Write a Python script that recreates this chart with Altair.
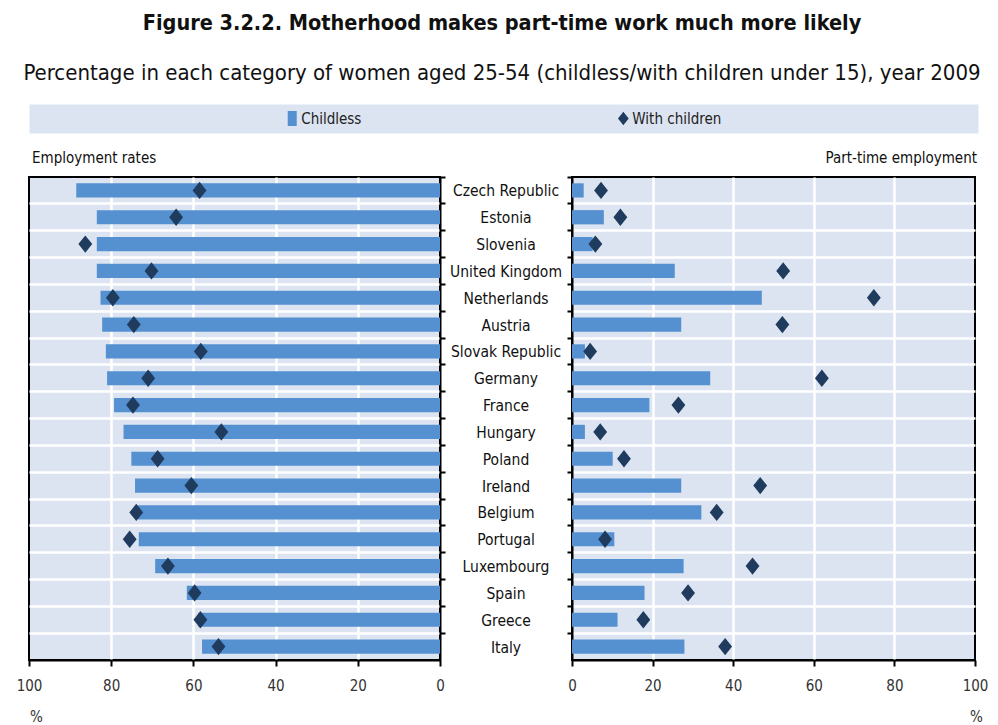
import altair as alt
import pandas as pd

countries = ["Czech Republic", "Estonia", "Slovenia", "United Kingdom", "Netherlands",
             "Austria", "Slovak Republic", "Germany", "France", "Hungary", "Poland",
             "Ireland", "Belgium", "Portugal", "Luxembourg", "Spain", "Greece", "Italy"]
emp_childless = [88.5, 83.5, 83.5, 83.5, 82.6, 82.2, 81.3, 81.0, 79.3, 77.0, 75.1,
                 74.2, 73.5, 73.3, 69.3, 61.6, 58.8, 57.9]
emp_mothers = [58.5, 64.2, 86.3, 70.2, 79.6, 74.5, 58.2, 71.0, 74.7, 53.2, 68.7,
               60.5, 73.9, 75.5, 66.2, 59.7, 58.3, 53.9]
pt_childless = [2.9, 7.9, 5.1, 25.5, 47.1, 27.1, 3.2, 34.3, 19.2, 3.2, 10.1,
                27.1, 32.1, 10.5, 27.7, 18.0, 11.3, 27.9]
pt_mothers = [7.2, 12.0, 5.8, 52.4, 74.9, 52.2, 4.5, 62.0, 26.4, 7.0, 12.9,
              46.7, 35.9, 8.2, 44.8, 28.8, 17.7, 38.0]
tick_values = [0, 20, 40, 60, 80, 100]
legend_labels = ["Childless", "With children"]

df = pd.DataFrame({
    "country": countries,
    "emp_childless": emp_childless,
    "emp_mothers": emp_mothers,
    "pt_childless": pt_childless,
    "pt_mothers": pt_mothers,
})
legend_df = pd.DataFrame({"item": legend_labels})

NARROW = "DejaVu Sans Condensed, sans-serif"
BAR = "#5590D0"
DIA = "#1F3B5E"
BG = "#DCE4F1"
DIAMOND = "M0,-1L0.8,0L0,1L-0.8,0Z"
SQUARE = "M-0.6,-1L0.6,-1L0.6,1L-0.6,1Z"

PLOT_H = 483

y_scale = alt.Scale(paddingInner=0, paddingOuter=0)

hide_first = {"condition": {"test": "datum.index === 0", "value": 0}, "value": 1}
hide_edges = {"condition": {"test": "datum.value === 0 || datum.value === 100", "value": 0}, "value": 1}


def y_axis(orient):
    return alt.Axis(orient=orient, labels=False, title=None, bandPosition=0,
                    grid=True, gridColor="white", gridWidth=2.5, gridOpacity=hide_first,
                    ticks=True, tickSize=5, tickColor="black", tickWidth=2,
                    domainColor="black", domainWidth=2)


def x_axis(title_x):
    return alt.Axis(values=tick_values, grid=True, gridColor="white", gridWidth=2.5,
                    gridOpacity=hide_edges, labelFlush=False,
                    labelFont=NARROW, labelFontSize=15, labelColor="#333333",
                    labelPadding=12, tickSize=6, tickColor="black", tickWidth=2,
                    domainColor="black", domainWidth=2,
                    title="%", titleFont=NARROW, titleFontSize=15,
                    titleFontWeight="normal", titleColor="#333333",
                    titleX=title_x, titleY=56, titleAlign="center",
                    titleBaseline="middle")


def panel(bar_field, dot_field, reverse, y_orient, title_text, title_anchor, title_dx, title_x, width):
    base = alt.Chart(df)
    xs = alt.Scale(domain=[0, 100], reverse=reverse)
    ys = alt.Y("country:N", sort=countries, scale=y_scale, axis=y_axis(y_orient))
    bars = base.mark_bar(height={"band": 0.53}, color=BAR).encode(
        x=alt.X(f"{bar_field}:Q", scale=xs, axis=x_axis(title_x)),
        y=ys,
    )
    dots = base.mark_point(shape=DIAMOND, filled=True, size=300, color=DIA, opacity=1).encode(
        x=alt.X(f"{dot_field}:Q", scale=xs),
        y=ys,
    )
    return alt.layer(bars, dots).properties(
        width=width, height=PLOT_H,
        view=alt.ViewBackground(fill=BG, stroke="black", strokeWidth=2),
        title=alt.TitleParams(title_text, anchor=title_anchor, frame="group", font=NARROW,
                              fontSize=15, fontWeight="normal", color="#111111",
                              offset=10, dx=title_dx),
    )


left = panel("emp_childless", "emp_mothers", True, "right", "Employment rates", "start", 3, 7, 411)
right = panel("pt_childless", "pt_mothers", False, "left", "Part-time employment", "end", 2, 404, 403)

middle = alt.Chart(df).mark_text(font=NARROW, fontSize=15.5, color="#111111",
                                 align="center", baseline="middle", dy=1).encode(
    y=alt.Y("country:N", sort=countries, scale=y_scale, axis=None),
    x=alt.value(66),
    text="country:N",
).properties(width=132, height=PLOT_H,
             view=alt.ViewBackground(fill="transparent", stroke="transparent"))

legend_scale = alt.Scale(type="point", domain=legend_labels, padding=0.933, align=0.426)
lx = alt.X("item:N", scale=legend_scale, axis=None, sort=legend_labels)
lbase = alt.Chart(legend_df)
leg_sq = lbase.transform_filter(alt.datum.item == "Childless").mark_point(
    shape=SQUARE, filled=True, size=225, color=BAR, opacity=1).encode(x=lx)
leg_dia = lbase.transform_filter(alt.datum.item == "With children").mark_point(
    shape=DIAMOND, filled=True, size=180, color=DIA, opacity=1).encode(x=lx)
leg_txt = lbase.mark_text(align="left", baseline="middle", dx=9, font=NARROW,
                          fontSize=15, color="#222222").encode(x=lx, text="item:N")
legend = alt.layer(leg_sq, leg_dia, leg_txt).properties(
    width=949, height=29,
    view=alt.ViewBackground(fill=BG, stroke="transparent"))

panels = alt.hconcat(left, middle, right, spacing=0, bounds="flush")

chart = alt.vconcat(legend, panels, spacing=16).properties(
    title=alt.TitleParams(
        "Figure 3.2.2. Motherhood makes part-time work much more likely",
        subtitle="Percentage in each category of women aged 25-54 (childless/with children under 15), year 2009",
        anchor="middle", font=NARROW, fontSize=21.5, fontWeight="bold", color="#111111",
        subtitleFont=NARROW, subtitleFontSize=22, subtitleColor="#111111",
        subtitlePadding=28, offset=20),
    padding={"left": 7, "top": 5, "right": 0, "bottom": 5},
)

chart.save("out.html", embed_options={"renderer": "svg", "actions": False})
